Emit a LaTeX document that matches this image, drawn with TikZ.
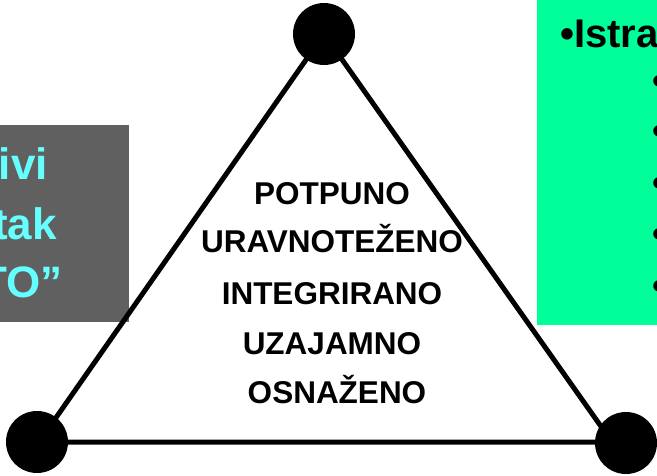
\documentclass[tikz,border=0pt]{standalone}
\usepackage{fontspec}
\setmainfont{Liberation Sans}
\definecolor{graybox}{HTML}{606060}
\definecolor{cyantext}{HTML}{66FFFF}
\definecolor{greenbox}{HTML}{00FF99}
\begin{document}
\begin{tikzpicture}[x=1pt,y=-1pt,
  dot/.style={circle,fill=black,minimum size=62pt,inner sep=0pt},
  edge/.style={line width=5pt,line join=miter},
  midtext/.style={font=\fontsize{31.5}{31.5}\selectfont\bfseries,inner sep=0pt,anchor=base},
  graytext/.style={font=\fontsize{44}{44}\selectfont\bfseries,text=cyantext,inner sep=0pt,anchor=base east},
  greentext/.style={font=\fontsize{40}{40}\selectfont\bfseries,inner sep=0pt},
]
\useasboundingbox (0,0) rectangle (657,476);
\clip (0,0) rectangle (657,476);
% boxes
\fill[graybox] (0,125) rectangle (129,322);
\node[graytext] (g1) at (48,180) {ivi};
\node[graytext] (g2) at (57,240) {tak};
\node[graytext] (g3) at (63,298) {TO”};
\fill[greenbox] (537,0) rectangle (660,325);
\node[greentext,anchor=base west] (istra) at (560,48) {•Istra};
\foreach \y/\n in {85/b1,135/b2,187/b3,238/b4,290/b5}
  \node[greentext,anchor=center] (\n) at (659,\y) {•};
% triangle
\coordinate (ta) at (324,34);
\coordinate (tl) at (39,442);
\coordinate (tr) at (612,442);
\draw[edge] (ta) -- (tl) -- (tr) -- cycle;
\node[dot] (ca) at (324,34) {};
\node[dot] (cl) at (37,442) {};
\node[dot] (cr) at (626,443) {};
% text
\node[midtext] (t1) at (332,205) {POTPUNO};
\node[midtext] (t2) at (332,253) {URAVNOTEŽENO};
\node[midtext] (t3) at (332,305) {INTEGRIRANO};
\node[midtext] (t4) at (332,355) {UZAJAMNO};
\node[midtext] (t5) at (337,403) {OSNAŽENO};
\end{tikzpicture}
\end{document}
